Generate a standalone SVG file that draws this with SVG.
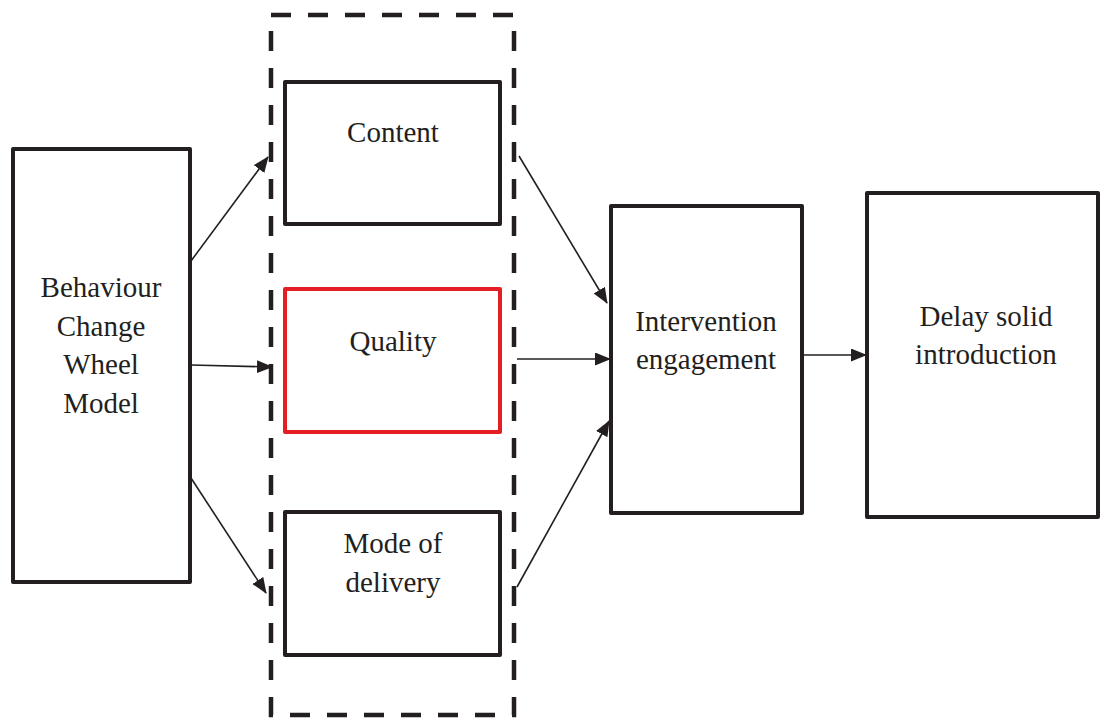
<svg xmlns="http://www.w3.org/2000/svg" width="1103" height="718" viewBox="0 0 1103 718">
  <defs>
    <style>
      .box { fill: #fff; stroke: #231f20; stroke-width: 4; stroke-linejoin: round; }
      .red { stroke: #e31e24; }
      .group { fill: none; stroke: #231f20; stroke-width: 4.5; stroke-dasharray: 20 17; }
      .link { fill: none; stroke: #231f20; stroke-width: 1.6; marker-end: url(#head); }
      text { font-family: "Liberation Serif", "Times New Roman", serif; font-size: 29px; fill: #231f20; text-anchor: middle; }
    </style>
    <marker id="head" viewBox="0 0 16 13" refX="15" refY="6.5" markerWidth="16" markerHeight="13" markerUnits="userSpaceOnUse" orient="auto">
      <path d="M0,0 L16,6.5 L0,13 Z" fill="#231f20"/>
    </marker>
  </defs>

  <!-- dashed grouping frame -->
  <rect class="group" x="271" y="15" width="243" height="700"/>

  <g id="bcw">
    <rect class="box" x="13" y="149" width="177" height="433"/>
    <text x="101" y="297">Behaviour</text>
    <text x="101" y="336">Change</text>
    <text x="101" y="374">Wheel</text>
    <text x="101" y="413">Model</text>
  </g>

  <g id="content">
    <rect class="box" x="285" y="82" width="215" height="142"/>
    <text x="393" y="142">Content</text>
  </g>

  <g id="quality">
    <rect class="box red" x="285" y="289" width="215" height="143"/>
    <text x="393" y="351">Quality</text>
  </g>

  <g id="delivery">
    <rect class="box" x="285" y="512" width="215" height="143"/>
    <text x="393" y="553">Mode of</text>
    <text x="393" y="592">delivery</text>
  </g>

  <g id="engagement">
    <rect class="box" x="611" y="206" width="191" height="307"/>
    <text x="706" y="331">Intervention</text>
    <text x="706" y="369">engagement</text>
  </g>

  <g id="delay">
    <rect class="box" x="867" y="193" width="231" height="324"/>
    <text x="986" y="326">Delay solid</text>
    <text x="986" y="364">introduction</text>
  </g>

  <g id="connectors">
    <line class="link" x1="191" y1="261" x2="268" y2="157"/>
    <line class="link" x1="191" y1="365" x2="272" y2="367"/>
    <line class="link" x1="191" y1="478" x2="266" y2="593"/>
    <line class="link" x1="519" y1="156" x2="607" y2="303"/>
    <line class="link" x1="517" y1="359" x2="610" y2="359"/>
    <line class="link" x1="517" y1="587" x2="609" y2="421"/>
    <line class="link" x1="803" y1="355" x2="866" y2="355"/>
  </g>
</svg>
